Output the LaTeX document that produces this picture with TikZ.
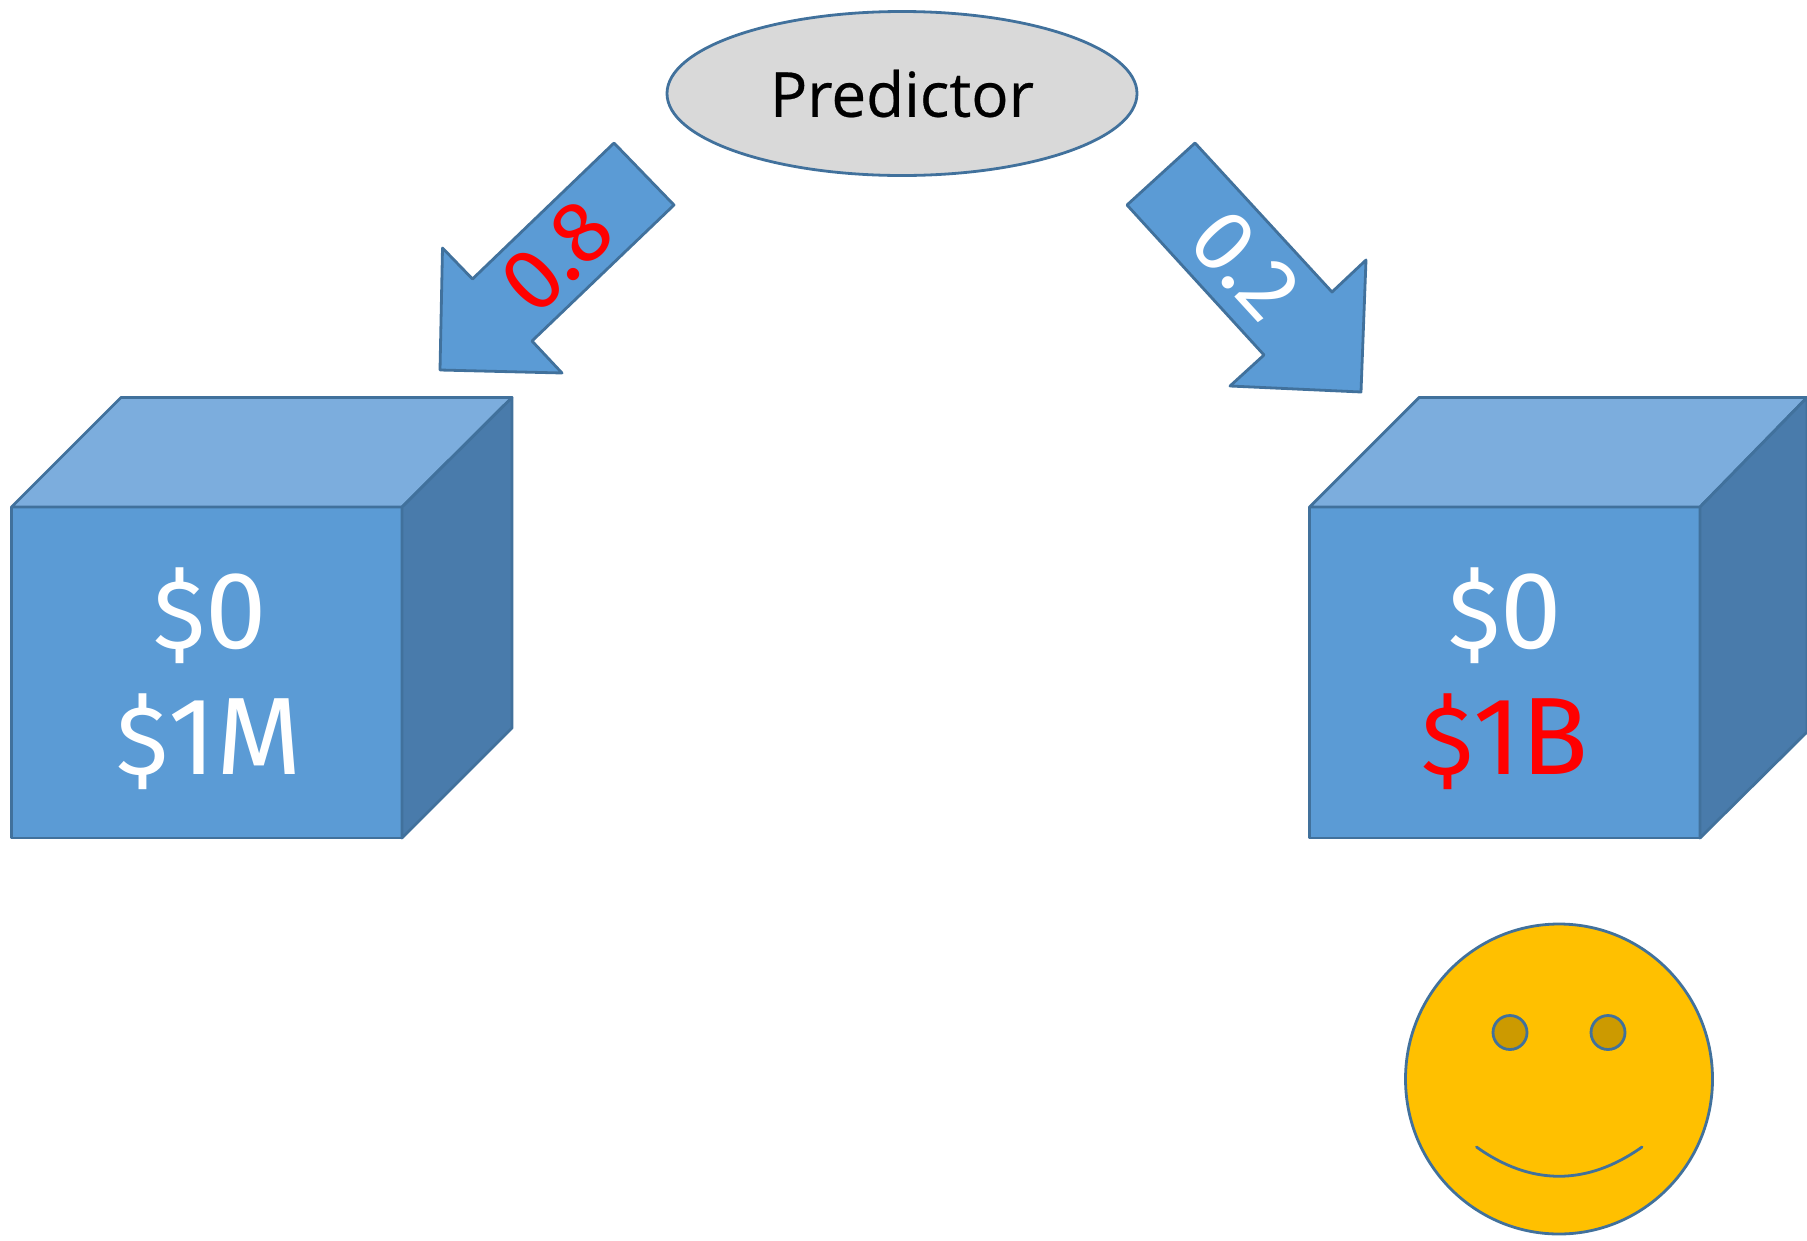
\documentclass[tikz,border=0pt]{standalone}
\usepackage{fontspec}
\setmainfont{Fira Sans}
\newfontfamily\predfont{Open Sans}
\usetikzlibrary{shapes.geometric}
\definecolor{boxblue}{HTML}{5B9BD5}
\definecolor{edgeblue}{HTML}{41719C}
\definecolor{topblue}{HTML}{7CADDD}
\definecolor{sideblue}{HTML}{497BAB}
\definecolor{facegold}{HTML}{FFC000}
\definecolor{eyegold}{HTML}{CC9A00}
\definecolor{predgrey}{HTML}{D9D9D9}
\definecolor{pure}{HTML}{FF0000}
\newcommand{\dollarsign}{{\fontsize{98}{98}\selectfont\$}}
\tikzset{
  x=1pt,y=-1pt,
  outl/.style={draw=edgeblue,line width=2.8pt,line join=round},
  arrowshape/.style={outl,fill=boxblue},
  boxfront/.style={outl,fill=boxblue},
  boxtop/.style={outl,fill=topblue},
  boxside/.style={outl,fill=sideblue},
  big/.style={font=\fontsize{110}{110}\selectfont,inner sep=0pt,anchor=base},
  prob/.style={font=\fontsize{88}{88}\selectfont,inner sep=0pt,anchor=center},
}
\newcommand{\cubeshape}[7]{%
  \draw[boxfront] (#1,#5) rectangle (#2,#6);
  \draw[boxtop] (#1,#5) -- (#3,397.5) -- (#4,397.5) -- (#2,#5) -- cycle;
  \draw[boxside] (#2,#5) -- (#4,397.5) -- (#4,#7) -- (#2,#6) -- cycle;
}
\begin{document}
\begin{tikzpicture}
\useasboundingbox (0,0) rectangle (1807,1240);
\node[ellipse,outl,fill=predgrey,minimum width=470pt,minimum height=164pt,inner sep=0pt,
  font=\predfont\addfontfeature{FakeBold=0.4}\fontsize{62}{62}\selectfont,text=black] (pred) at (902,93.5) {Predictor};
\draw[arrowshape] (614,143) -- (674,205) -- (532,341) -- (562,373) -- (440,370) -- (442.5,248) -- (472.5,279) -- cycle;
\node[prob,rotate=44,text=pure] (pleft) at (557,257) {0.8};
\draw[arrowshape] (1195,143) -- (1332,292) -- (1366,260) -- (1361,392) -- (1230,386) -- (1264,355) -- (1127,205) -- cycle;
\node[prob,rotate=-47.5,text=white] (pright) at (1245,265) {0.2};
\cubeshape{11.5}{402}{121}{512}{507}{838}{728}
\cubeshape{1309.5}{1700}{1419}{1807}{507}{838}{732}
\node[big,text=white] (lzero) at (210,648) {\dollarsign 0};
\node[big,text=white] (lmil) at (209,774) {\dollarsign 1M};
\node[big,text=white] (rzero) at (1505,648) {\dollarsign 0};
\node[big,text=pure] (rbil) at (1505,774) {\dollarsign 1B};
\draw[outl,fill=facegold] (1559,1079) ellipse [x radius=153.5,y radius=155];
\draw[outl,fill=eyegold] (1510,1032.5) circle [radius=17];
\draw[outl,fill=eyegold] (1608,1032.5) circle [radius=17];
\draw[outl,line cap=round] (1476.5,1147) .. controls (1531,1186) and (1587,1186) .. (1642,1147);
\end{tikzpicture}
\end{document}
